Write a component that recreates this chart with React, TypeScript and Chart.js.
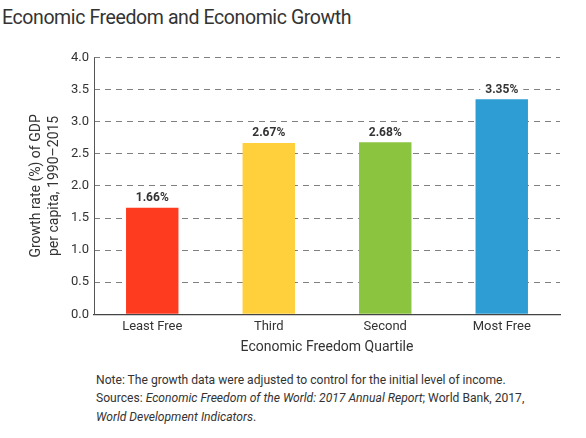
import React, { useEffect, useRef } from "react";
import { Chart, registerables } from "chart.js";

Chart.register(...registerables);

const categories = ["Least Free", "Third", "Second", "Most Free"];
const growthValues = [1.66, 2.67, 2.68, 3.35];
const valueLabels = ["1.66%", "2.67%", "2.68%", "3.35%"];
const barColors = ["#FF3B1F", "#FFD03B", "#8BC540", "#2E9DD3"];
const yTitleLines = ["Growth rate (%) of GDP", "per capita, 1990\u20132015"];
const xTitle = "Economic Freedom Quartile";
const chartTitle = "Economic Freedom and Economic Growth";

const FONT = "Roboto, 'Noto Sans', sans-serif";

const valueLabelPlugin = {
  id: "valueLabels",
  afterDatasetsDraw(chart: any) {
    const ctx = chart.ctx;
    const meta = chart.getDatasetMeta(0);
    ctx.save();
    ctx.font = `bold 12px ${FONT}`;
    ctx.textAlign = "center";
    ctx.textBaseline = "bottom";
    meta.data.forEach((bar: any, i: number) => {
      const w = ctx.measureText(valueLabels[i]).width;
      ctx.fillStyle = "#fff";
      ctx.fillRect(bar.x - w / 2 - 5, bar.y - 18, w + 10, 14);
      ctx.fillStyle = "#333";
      ctx.fillText(valueLabels[i], bar.x, bar.y - 3.5);
    });
    ctx.restore();
  },
};

const yAxisLinePlugin = {
  id: "yAxisLine",
  afterDatasetsDraw(chart: any) {
    const { ctx, chartArea } = chart;
    ctx.save();
    ctx.strokeStyle = "#555";
    ctx.lineWidth = 1;
    ctx.setLineDash([]);
    ctx.beginPath();
    ctx.moveTo(chartArea.left + 0.5, chartArea.top);
    ctx.lineTo(chartArea.left + 0.5, chartArea.bottom);
    ctx.stroke();
    ctx.restore();
  },
};

export default function App() {
  const canvasRef = useRef<HTMLCanvasElement | null>(null);

  useEffect(() => {
    if (!canvasRef.current) return;
    const chart = new Chart(canvasRef.current, {
      type: "bar",
      data: {
        labels: categories,
        datasets: [
          {
            data: growthValues,
            backgroundColor: barColors,
            borderWidth: 0,
            barPercentage: 0.45,
            categoryPercentage: 1,
          },
        ],
      },
      options: {
        animation: false,
        responsive: false,
        maintainAspectRatio: false,
        layout: { padding: { left: 0, right: 26, top: 17.5, bottom: 0 } },
        plugins: {
          legend: { display: false },
          tooltip: { enabled: false },
        },
        scales: {
          x: {
            grid: { display: false, drawTicks: false },
            border: { display: true, color: "#444", width: 1.2 },
            ticks: {
              color: "#333",
              font: { family: FONT, size: 13 },
              padding: 5,
            },
            title: {
              display: true,
              text: xTitle,
              color: "#333",
              font: { family: FONT, size: 14 },
              padding: { top: 2, bottom: 4 },
            },
            afterFit: (s: any) => {
              s.height = 45.7;
            },
          },
          y: {
            min: 0,
            max: 4,
            ticks: {
              stepSize: 0.5,
              color: "#333",
              font: { family: FONT, size: 13 },
              padding: 5,
              callback: (v: any) => Number(v).toFixed(1),
            },
            grid: {
              color: "#808080",
              drawTicks: false,
              lineWidth: 1,
            },
            border: { display: false, dash: [6, 5] },
            title: {
              display: true,
              text: yTitleLines,
              color: "#333",
              font: { family: FONT, size: 14, lineHeight: 1.25 },
              padding: { top: 28, bottom: 0 },
            },
            afterFit: (s: any) => {
              s.width = 94;
            },
          },
        },
      },
      plugins: [yAxisLinePlugin, valueLabelPlugin],
    } as any);
    return () => chart.destroy();
  }, []);

  return (
    <div
      style={{
        position: "absolute",
        left: 0,
        top: 0,
        width: 586,
        height: 438,
        background: "#fff",
        fontFamily: FONT,
        color: "#333",
      }}
    >
      <div
        style={{
          position: "absolute",
          left: 2,
          top: 5,
          fontSize: 19.5,
          letterSpacing: "-0.4px",
          lineHeight: "26px",
          whiteSpace: "nowrap",
        }}
      >
        {chartTitle}
      </div>
      <canvas
        ref={canvasRef}
        width={586}
        height={320}
        style={{ position: "absolute", left: 0, top: 40, width: 586, height: 320 }}
      />
      <div
        style={{
          position: "absolute",
          left: 96,
          top: 371,
          fontSize: 12.1,
          lineHeight: "18.3px",
          whiteSpace: "nowrap",
        }}
      >
        <div>Note: The growth data were adjusted to control for the initial level of income.</div>
        <div>
          Sources: <i>Economic Freedom of the World: 2017 Annual Report</i>; World Bank, 2017,
        </div>
        <div>
          <i>World Development Indicators</i>.
        </div>
      </div>
    </div>
  );
}
